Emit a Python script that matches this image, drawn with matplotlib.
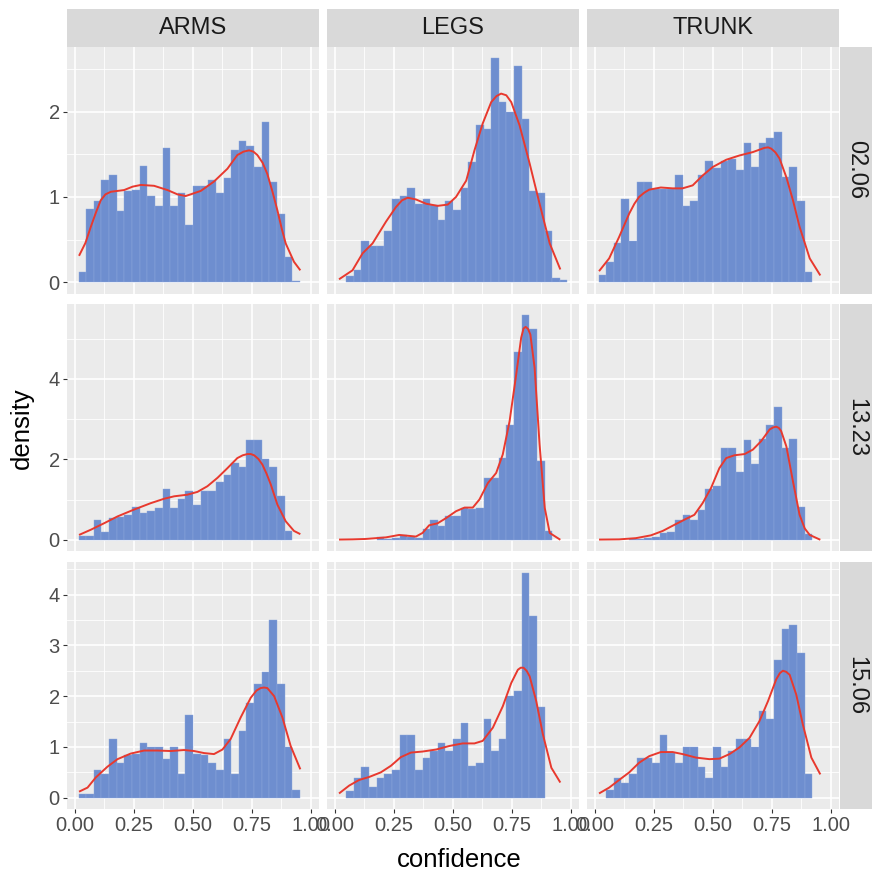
import numpy as np
import matplotlib
matplotlib.use("Agg")
import matplotlib.pyplot as plt
from matplotlib.ticker import FixedLocator

plt.rcParams['font.family'] = ['Liberation Sans', 'DejaVu Sans']

# ---------------- data ----------------
parts = ["ARMS", "LEGS", "TRUNK"]
dates = ["02.06", "13.23", "15.06"]

# common histogram bins (30 bins)
bin_first_edge = 0.01617
bin_width = 0.03234

# histogram densities (30 bins each)
hist_arms_0206 = [0.12, 0.86, 0.95, 1.20, 1.26, 0.83, 1.07, 1.08, 1.36, 1.01, 0.89, 1.57, 0.89, 1.05, 0.67,
                  1.13, 1.13, 1.20, 1.04, 1.22, 1.55, 1.66, 1.60, 1.35, 1.88, 1.17, 0.80, 0.30, 0.02, 0]
hist_legs_0206 = [0, 0.07, 0.14, 0.48, 0.42, 0.42, 0.60, 0.98, 1.01, 1.105, 0.92, 0.98, 0.91, 0.73, 0.95,
                  0.85, 1.105, 1.41, 1.84, 1.79, 2.63, 2.11, 2.00, 2.53, 1.91, 1.07, 1.04, 0.60, 0.05, 0.03]
hist_trunk_0206 = [0.085, 0.24, 0.455, 0.98, 0.48, 1.17, 1.17, 1.09, 1.09, 1.09, 1.26, 0.89, 0.95, 1.26, 1.42,
                   1.34, 1.42, 1.44, 1.32, 1.63, 1.35, 1.63, 1.69, 1.76, 1.23, 1.35, 0.95, 0.12, 0, 0]
hist_arms_1323 = [0.10, 0.10, 0.50, 0.19, 0.55, 0.56, 0.62, 0.81, 0.66, 0.72, 0.78, 1.27, 0.80, 1.02, 1.22,
                  0.87, 1.20, 1.22, 1.44, 1.62, 1.91, 1.80, 2.47, 2.47, 2.00, 1.80, 1.08, 0.22, 0, 0]
hist_legs_1323 = [0, 0, 0, 0, 0, 0.07, 0.03, 0.04, 0.12, 0.07, 0.04, 0.27, 0.48, 0.35, 0.60,
                  0.60, 0.79, 0.76, 0.80, 1.54, 1.54, 2.03, 2.84, 4.67, 5.58, 5.23, 1.95, 0.22, 0, 0]
hist_trunk_1323 = [0, 0, 0, 0, 0.02, 0.03, 0.04, 0.06, 0.17, 0.19, 0.50, 0.61, 0.50, 0.75, 1.27,
                   1.33, 2.27, 2.27, 1.68, 2.47, 1.88, 2.51, 2.84, 3.30, 2.27, 2.51, 0.82, 0.14, 0, 0]
hist_arms_1506 = [0.07, 0.07, 0.54, 0.46, 1.16, 0.69, 0.84, 0.86, 1.07, 1.00, 1.00, 0.77, 1.00, 0.46, 1.63,
                  0.86, 0.84, 0.69, 0.54, 1.16, 0.46, 1.31, 1.86, 2.24, 2.48, 3.49, 2.24, 1.00, 0.15, 0]
hist_legs_1506 = [0, 0.14, 0.39, 0.61, 0.22, 0.39, 0.46, 0.54, 1.24, 1.24, 0.54, 0.78, 0.92, 1.08, 0.93,
                  1.16, 1.47, 0.63, 0.69, 1.56, 0.93, 1.16, 2.01, 2.10, 4.42, 3.57, 1.78, 0, 0, 0]
hist_trunk_1506 = [0, 0.15, 0.39, 0.30, 0.46, 0.78, 0.78, 0.69, 1.24, 0.88, 0.69, 1.00, 1.00, 0.61, 0.38,
                   1.00, 0.61, 0.92, 1.16, 1.16, 1.00, 1.71, 1.56, 2.71, 3.33, 3.41, 2.85, 0.46, 0, 0]

# density curves (x, y)
dens_x_arms_0206 = [0.018, 0.045, 0.068, 0.090, 0.110, 0.130, 0.153, 0.209, 0.245, 0.280, 0.336, 0.393, 0.435,
                    0.470, 0.534, 0.590, 0.647, 0.689, 0.715, 0.739, 0.757, 0.774, 0.796, 0.816, 0.838, 0.859,
                    0.877, 0.894, 0.929, 0.956]
dens_y_arms_0206 = [0.31, 0.46, 0.65, 0.82, 0.96, 1.03, 1.06, 1.08, 1.12, 1.14, 1.13, 1.08, 1.03,
                    1.01, 1.07, 1.18, 1.33, 1.49, 1.53, 1.545, 1.53, 1.49, 1.40, 1.27, 1.06, 0.84,
                    0.63, 0.455, 0.24, 0.14]
dens_x_legs_0206 = [0.018, 0.075, 0.118, 0.160, 0.217, 0.259, 0.285, 0.309, 0.344, 0.387, 0.436, 0.479, 0.514,
                    0.557, 0.592, 0.627, 0.663, 0.685, 0.705, 0.727, 0.748, 0.783, 0.826, 0.868, 0.911, 0.956]
dens_y_legs_0206 = [0.035, 0.14, 0.34, 0.455, 0.71, 0.88, 0.96, 0.99, 0.97, 0.92, 0.895, 0.91, 1.00,
                    1.19, 1.545, 1.86, 2.11, 2.18, 2.21, 2.19, 2.11, 1.84, 1.39, 0.92, 0.455, 0.15]
dens_x_trunk_0206 = [0.018, 0.061, 0.103, 0.146, 0.168, 0.188, 0.210, 0.231, 0.280, 0.330, 0.372, 0.415, 0.457,
                     0.500, 0.557, 0.613, 0.670, 0.720, 0.735, 0.748, 0.766, 0.783, 0.812, 0.840, 0.868, 0.911,
                     0.956]
dens_y_trunk_0206 = [0.13, 0.28, 0.53, 0.805, 0.92, 1.00, 1.05, 1.085, 1.11, 1.10, 1.10, 1.135, 1.25,
                     1.35, 1.435, 1.485, 1.525, 1.575, 1.58, 1.565, 1.52, 1.45, 1.23, 0.96, 0.65, 0.28,
                     0.08]
dens_x_arms_1323 = [0.018, 0.068, 0.124, 0.181, 0.251, 0.322, 0.379, 0.421, 0.477, 0.520, 0.562, 0.605, 0.647,
                    0.689, 0.712, 0.732, 0.746, 0.760, 0.778, 0.795, 0.813, 0.831, 0.859, 0.894, 0.929, 0.956]
dens_y_arms_1323 = [0.12, 0.25, 0.41, 0.58, 0.75, 0.91, 1.02, 1.08, 1.12, 1.19, 1.33, 1.54, 1.78,
                    2.03, 2.10, 2.13, 2.13, 2.10, 2.01, 1.87, 1.64, 1.37, 0.87, 0.46, 0.22, 0.14]
dens_x_legs_1323 = [0.018, 0.075, 0.130, 0.174, 0.217, 0.273, 0.309, 0.344, 0.372, 0.400, 0.436, 0.472, 0.514,
                    0.550, 0.585, 0.613, 0.649, 0.684, 0.712, 0.741, 0.769, 0.790, 0.800, 0.809, 0.819, 0.829,
                    0.847, 0.868, 0.890, 0.911, 0.956]
dens_y_legs_1323 = [0.005, 0.01, 0.02, 0.04, 0.06, 0.12, 0.10, 0.08, 0.17, 0.36, 0.41, 0.54, 0.71,
                    0.80, 0.80, 1.00, 1.41, 1.66, 2.12, 2.95, 4.11, 5.02, 5.25, 5.29, 5.24, 5.10,
                    4.27, 2.37, 0.79, 0.17, 0.0]
dens_x_trunk_1323 = [0.018, 0.103, 0.174, 0.238, 0.288, 0.337, 0.387, 0.422, 0.457, 0.493, 0.528, 0.557, 0.592,
                     0.635, 0.670, 0.705, 0.741, 0.755, 0.769, 0.780, 0.790, 0.812, 0.840, 0.868, 0.890, 0.911,
                     0.956]
dens_y_trunk_1323 = [0.005, 0.01, 0.04, 0.11, 0.22, 0.37, 0.52, 0.62, 0.91, 1.29, 1.78, 2.03, 2.10,
                     2.13, 2.24, 2.45, 2.74, 2.79, 2.81, 2.78, 2.70, 2.32, 1.45, 0.62, 0.28, 0.12,
                     0.0]
dens_x_arms_1506 = [0.018, 0.054, 0.089, 0.138, 0.181, 0.237, 0.294, 0.350, 0.407, 0.463, 0.506, 0.548, 0.590,
                    0.626, 0.661, 0.703, 0.746, 0.770, 0.788, 0.802, 0.816, 0.845, 0.880, 0.915, 0.956]
dens_y_arms_1506 = [0.12, 0.20, 0.40, 0.61, 0.76, 0.87, 0.93, 0.93, 0.92, 0.94, 0.92, 0.88, 0.86,
                    0.95, 1.16, 1.58, 1.97, 2.11, 2.16, 2.17, 2.16, 2.00, 1.58, 1.02, 0.56]
dens_x_legs_1506 = [0.018, 0.061, 0.103, 0.146, 0.195, 0.238, 0.280, 0.323, 0.372, 0.430, 0.486, 0.542, 0.592,
                    0.627, 0.670, 0.712, 0.748, 0.776, 0.788, 0.800, 0.813, 0.826, 0.854, 0.882, 0.918, 0.956]
dens_y_legs_1506 = [0.085, 0.24, 0.35, 0.41, 0.50, 0.63, 0.80, 0.89, 0.91, 0.95, 1.02, 1.07, 1.07,
                    1.12, 1.38, 1.80, 2.26, 2.52, 2.56, 2.56, 2.50, 2.39, 1.90, 1.25, 0.59, 0.30]
dens_x_trunk_1506 = [0.018, 0.061, 0.103, 0.146, 0.188, 0.231, 0.280, 0.330, 0.372, 0.430, 0.486, 0.528, 0.571,
                     0.613, 0.656, 0.698, 0.734, 0.769, 0.784, 0.797, 0.811, 0.826, 0.854, 0.882, 0.918, 0.956]
dens_y_trunk_1506 = [0.085, 0.20, 0.35, 0.50, 0.69, 0.82, 0.90, 0.90, 0.86, 0.79, 0.76, 0.77, 0.86,
                     0.99, 1.18, 1.51, 1.90, 2.33, 2.45, 2.50, 2.48, 2.42, 2.03, 1.44, 0.79, 0.46]

hists = {
    ("02.06", "ARMS"): hist_arms_0206, ("02.06", "LEGS"): hist_legs_0206, ("02.06", "TRUNK"): hist_trunk_0206,
    ("13.23", "ARMS"): hist_arms_1323, ("13.23", "LEGS"): hist_legs_1323, ("13.23", "TRUNK"): hist_trunk_1323,
    ("15.06", "ARMS"): hist_arms_1506, ("15.06", "LEGS"): hist_legs_1506, ("15.06", "TRUNK"): hist_trunk_1506,
}
dens = {
    ("02.06", "ARMS"): (dens_x_arms_0206, dens_y_arms_0206),
    ("02.06", "LEGS"): (dens_x_legs_0206, dens_y_legs_0206),
    ("02.06", "TRUNK"): (dens_x_trunk_0206, dens_y_trunk_0206),
    ("13.23", "ARMS"): (dens_x_arms_1323, dens_y_arms_1323),
    ("13.23", "LEGS"): (dens_x_legs_1323, dens_y_legs_1323),
    ("13.23", "TRUNK"): (dens_x_trunk_1323, dens_y_trunk_1323),
    ("15.06", "ARMS"): (dens_x_arms_1506, dens_y_arms_1506),
    ("15.06", "LEGS"): (dens_x_legs_1506, dens_y_legs_1506),
    ("15.06", "TRUNK"): (dens_x_trunk_1506, dens_y_trunk_1506),
}
y_major = {"02.06": [0, 1, 2], "13.23": [0, 2, 4], "15.06": [0, 1, 2, 3, 4]}
x_major = [0.0, 0.25, 0.5, 0.75, 1.0]
x_labels = ["0.00", "0.25", "0.50", "0.75", "1.00"]

# ---------------- layout (pixels) ----------------
W, H = 872, 874
fig = plt.figure(figsize=(W / 100, H / 100), dpi=100)
col_left = [67, 327, 587]
col_w = 251.5
row_top = [46.5, 304, 562]
row_h = 247
strip_top_y, strip_top_h = 8.5, 38
strip_right_x, strip_right_w = 839.5, 32.5

def px_axes(x, y, w, h):
    return fig.add_axes([x / W, 1 - (y + h) / H, w / W, h / H])

bar_color = "#6E8ECF"
line_color = "#E8392E"
grid_bg = "#EBEBEB"
strip_bg = "#D9D9D9"

edges = bin_first_edge + np.arange(30) * bin_width
xlim = (-0.033, 1.033)

for r, d in enumerate(dates):
    row_vals = []
    for p in parts:
        row_vals += list(hists[(d, p)]) + list(dens[(d, p)][1])
    ymax = max(row_vals)
    ylim = (-0.05 * ymax, 1.05 * ymax)
    for c, p in enumerate(parts):
        ax = px_axes(col_left[c], row_top[r], col_w, row_h)
        ax.set_facecolor(grid_bg)
        for s in ax.spines.values():
            s.set_visible(False)
        ax.set_xlim(*xlim)
        ax.set_ylim(*ylim)
        ym = y_major[d]
        step = ym[1] - ym[0]
        yminor = [v + step / 2 for v in ym] + [ym[0] - step / 2]
        ax.yaxis.set_major_locator(FixedLocator(ym))
        ax.yaxis.set_minor_locator(FixedLocator(yminor))
        ax.xaxis.set_major_locator(FixedLocator(x_major))
        ax.xaxis.set_minor_locator(FixedLocator([0.125, 0.375, 0.625, 0.875]))
        ax.grid(which="major", color="white", linewidth=1.2)
        ax.grid(which="minor", color="white", linewidth=0.6)
        ax.set_axisbelow(True)
        ax.tick_params(which="minor", length=0)
        ax.tick_params(which="major", length=3.2, width=0.8, color="#333333",
                       labelcolor="#4D4D4D", labelsize=14.5, pad=2)
        h = np.array(hists[(d, p)], dtype=float)
        m = h > 0
        ax.bar(edges[m], h[m], width=bin_width, align="edge", color=bar_color,
               edgecolor="#8FA8DC", linewidth=0.3, zorder=2)
        xs, ys = dens[(d, p)]
        ax.plot(xs, ys, color=line_color, linewidth=1.4, zorder=3,
                solid_joinstyle="round", solid_capstyle="butt")
        if c == 0:
            ax.set_yticklabels([str(v) for v in ym])
        else:
            ax.tick_params(axis="y", which="major", length=0, labelleft=False)
        if r == 2:
            ax.set_xticklabels(x_labels)
        else:
            ax.tick_params(axis="x", which="major", length=0, labelbottom=False)

# top strips
for c, p in enumerate(parts):
    sa = px_axes(col_left[c], strip_top_y, col_w, strip_top_h)
    sa.set_facecolor(strip_bg)
    sa.set_xticks([]); sa.set_yticks([])
    for s in sa.spines.values():
        s.set_visible(False)
    sa.text(0.5, 0.5, p, ha="center", va="center", fontsize=17, color="#1A1A1A",
            transform=sa.transAxes)

# right strips
for r, d in enumerate(dates):
    sa = px_axes(strip_right_x, row_top[r], strip_right_w, row_h)
    sa.set_facecolor(strip_bg)
    sa.set_xticks([]); sa.set_yticks([])
    for s in sa.spines.values():
        s.set_visible(False)
    sa.text(0.5, 0.5, d, ha="center", va="center", fontsize=17, color="#1A1A1A",
            rotation=-90, transform=sa.transAxes)

fig.text(459 / W, 1 - 860 / H, "confidence", ha="center", va="center", fontsize=18.5, color="black")
fig.text(22 / W, 1 - 428 / H, "density", ha="center", va="center", fontsize=18.5, color="black",
         rotation=90)

fig.savefig("out.png", dpi=100)
